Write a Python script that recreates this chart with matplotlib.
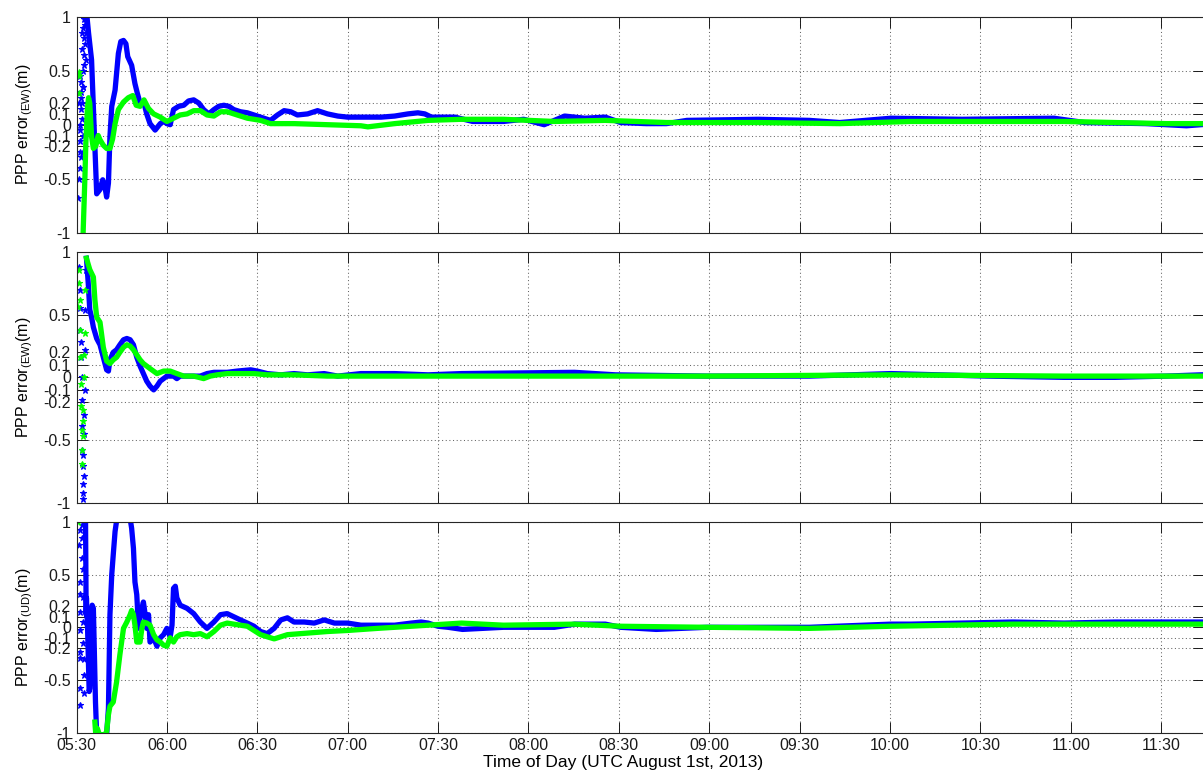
import matplotlib
matplotlib.use("Agg")
import matplotlib.pyplot as plt
import numpy as np

plt.rcParams['font.family'] = ['Liberation Sans', 'DejaVu Sans']
plt.rcParams['mathtext.fontset'] = 'custom'
plt.rcParams['mathtext.rm'] = 'Liberation Sans'
plt.rcParams['mathtext.it'] = 'Liberation Sans'

# ---------------- data (minutes after 05:30, error in metres) ----------------
# Panel 1 (EW)
p1_blue_t = [3.3, 4.0, 5.0, 6.7, 7.8, 8.7, 9.4, 10.0, 10.6, 11.1, 11.7, 12.8, 13.9, 14.7, 15.6, 16.4, 17.0,
             18.3, 19.4, 20.2, 21.1, 22.4, 23.3, 24.4, 26.1, 27.8, 28.9, 30.0, 31.1, 32.2, 33.9, 35.6,
             37.2, 38.9, 40.6, 42.2, 43.9, 45.6, 47.2, 48.9, 50.6, 52.2, 54.4, 56.7, 58.9, 61.1, 64.4,
             66.7, 68.9, 71.1, 73.3, 76.7, 80.0, 83.3, 86.7, 90.0, 94.4, 101.1, 105.6, 110.0, 113.3,
             115.6, 117.8, 122.2, 125.6, 131.5, 141.7, 148.4, 155.2, 162.0, 168.7, 175.5, 180.6, 189.0,
             195.8, 202.6, 226.3, 243.2, 253.3, 270.3, 293.9, 324.4, 334.6, 354.9, 368.4, 373.1]
p1_blue_v = [1.05, 0.85, 0.60, -0.64, -0.60, -0.51, -0.57, -0.67, -0.54, -0.11, 0.17, 0.32, 0.66, 0.77,
             0.78, 0.75, 0.63, 0.55, 0.38, 0.29, 0.20, 0.20, 0.10, 0.01, -0.05, 0.01, 0.03, 0.01, 0.00,
             0.14, 0.17, 0.18, 0.22, 0.23, 0.20, 0.14, 0.10, 0.14, 0.17, 0.18, 0.17, 0.14, 0.12, 0.11,
             0.09, 0.07, 0.04, 0.09, 0.13, 0.12, 0.09, 0.10, 0.13, 0.10, 0.08, 0.07, 0.07, 0.07, 0.08,
             0.10, 0.11, 0.10, 0.07, 0.07, 0.07, 0.03, 0.03, 0.05, 0.00, 0.08, 0.06, 0.07, 0.02, 0.01,
             0.01, 0.04, 0.05, 0.04, 0.02, 0.06, 0.05, 0.06, 0.02, 0.01, -0.01, 0.00]
p1_blue_sc_t = [0.6, 0.8, 1.0, 1.1, 1.2, 1.3, 1.4, 1.5, 1.6, 1.7, 1.8, 2.0, 2.1, 2.3, 2.4, 2.6, 2.8,
                3.0, 3.1, 0.9, 1.2, 1.5, 1.9, 2.2, 2.5, 2.7, 2.9, 3.0, 1.0, 1.4, 1.8, 2.0, 2.2, 2.4]
p1_blue_sc_v = [-0.68, -0.50, -0.40, -0.25, -0.15, 0.00, 0.15, 0.30, 0.40, 0.20, 0.05, -0.10, -0.25,
                0.35, 0.55, 0.80, 1.00, 0.95, 0.85, 0.20, 0.45, -0.30, 0.70, 0.90, 0.65, 0.92, 0.75,
                0.60, -0.05, 0.25, 0.85, 0.35, 0.50, 0.98]
p1_green_t = [2.2, 2.8, 3.1, 3.6, 4.0, 4.4, 5.0, 5.6, 6.4, 7.2, 7.8, 8.9, 10.0, 11.1, 12.0, 12.8, 13.9,
              15.6, 17.2, 18.7, 19.8, 21.1, 22.4, 23.9, 25.6, 27.8, 30.0, 32.2, 34.4, 36.7, 38.9, 41.1,
              43.3, 45.6, 47.8, 50.0, 53.3, 56.7, 61.1, 64.4, 72.2, 83.3, 94.4, 96.7, 105.6, 116.7,
              127.8, 141.7, 158.6, 175.5, 195.8, 226.3, 253.3, 277.0, 327.8, 361.6, 373.1]
p1_green_v = [-1.00, -0.48, -0.17, 0.14, 0.25, 0.20, -0.11, -0.22, -0.20, -0.10, -0.14, -0.19, -0.22,
              -0.22, -0.13, 0.01, 0.14, 0.21, 0.25, 0.27, 0.18, 0.17, 0.23, 0.15, 0.10, 0.07, 0.03, 0.06,
              0.09, 0.10, 0.13, 0.13, 0.09, 0.08, 0.12, 0.12, 0.09, 0.06, 0.04, 0.01, 0.01, 0.00, -0.01,
              -0.02, 0.01, 0.04, 0.05, 0.05, 0.03, 0.04, 0.02, 0.02, 0.01, 0.03, 0.03, 0.01, 0.01]
p1_green_sc_t = [0.9, 0.9, 0.7]
p1_green_sc_v = [0.49, 0.29, 0.45]

# Panel 2 (EW)
p2_blue_t = [3.3, 3.9, 4.4, 5.0, 5.6, 6.7, 7.8, 8.9, 10.0, 10.6, 11.1, 12.2, 13.3, 14.4, 15.6, 16.7,
             17.8, 18.9, 20.0, 21.1, 22.2, 23.3, 24.4, 25.6, 26.7, 27.8, 28.9, 30.0, 32.2, 33.3, 34.4,
             38.9, 41.1, 43.3, 45.6, 50.0, 53.3, 57.8, 60.0, 63.3, 67.8, 72.2, 76.7, 82.2, 86.7, 94.4,
             105.6, 116.7, 127.8, 165.3, 178.9, 209.3, 243.2, 270.3, 302.4, 327.8, 344.7, 361.6, 373.1]
p2_blue_v = [0.95, 0.75, 0.54, 0.48, 0.40, 0.31, 0.26, 0.16, 0.06, 0.05, 0.14, 0.20, 0.22, 0.26, 0.30,
             0.31, 0.30, 0.26, 0.16, 0.09, 0.03, -0.03, -0.07, -0.10, -0.07, -0.03, -0.01, 0.01, 0.01,
             -0.01, 0.01, 0.01, 0.01, 0.03, 0.04, 0.04, 0.05, 0.06, 0.05, 0.03, 0.02, 0.03, 0.02, 0.03,
             0.01, 0.03, 0.03, 0.02, 0.03, 0.04, 0.02, 0.01, 0.01, 0.03, 0.01, 0.00, 0.00, 0.01, 0.02]
p2_blue_sc_t = [0.9, 1.1, 1.3, 1.4, 1.7, 1.8, 1.8, 1.9, 2.0, 2.0, 2.2, 2.4, 2.6, 2.7, 2.8, 2.9, 3.1,
                1.0, 1.5, 2.1, 2.3, 2.5]
p2_blue_sc_v = [0.88, 0.70, 0.38, 0.16, 0.00, -0.18, -0.39, -0.58, -0.71, -0.85, -0.97, -0.79, -0.45,
                -0.10, 0.22, 0.54, 0.86, 0.55, 0.28, -0.92, -0.62, -0.30]
p2_green_t = [3.3, 4.4, 5.6, 6.1, 6.7, 7.8, 8.9, 10.0, 11.1, 12.2, 13.3, 14.4, 15.6, 16.7, 17.8, 18.9,
              20.0, 21.1, 22.2, 24.4, 26.7, 28.9, 31.1, 33.3, 35.6, 38.9, 42.2, 44.4, 46.7, 50.0, 58.9,
              63.3, 72.2, 83.3, 105.6, 127.8, 158.6, 209.3, 270.3, 327.8, 373.1]
p2_green_v = [0.95, 0.86, 0.80, 0.62, 0.48, 0.44, 0.24, 0.13, 0.11, 0.14, 0.16, 0.20, 0.24, 0.26, 0.25,
              0.22, 0.18, 0.14, 0.11, 0.07, 0.03, 0.05, 0.05, 0.03, 0.01, 0.01, -0.01, 0.01, 0.02, 0.03,
              0.03, 0.02, 0.02, 0.01, 0.01, 0.01, 0.01, 0.01, 0.02, 0.01, 0.01]
p2_green_sc_t = [0.6, 0.8, 0.9, 1.1, 1.3, 1.4, 1.6, 1.7, 1.8, 1.9, 2.0, 2.2, 2.4, 2.7, 2.9, 1.0, 2.1, 2.5]
p2_green_sc_v = [0.56, 0.86, 0.75, 0.38, 0.16, -0.05, -0.23, -0.42, -0.58, -0.69, -0.47, -0.26, 0.00,
                 0.35, 0.70, 0.62, -0.35, 0.18]

# Panel 3 (UD)
p3_blue_t = [3.0, 3.1, 3.2, 3.3, 3.7, 3.9, 4.2, 4.4, 4.7, 5.0, 5.2, 5.6, 5.9, 6.3, 6.7, 10.0, 10.6,
             11.1, 11.7, 12.2, 12.8, 13.6, 17.6, 18.3, 18.9, 19.4, 20.0, 20.6, 21.1, 21.7, 22.2, 22.8,
             23.3, 23.9, 24.4, 25.6, 26.7, 27.8, 28.9, 30.0, 31.1, 31.7, 32.2, 32.8, 33.3, 34.4, 36.7,
             38.9, 41.1, 43.3, 45.6, 47.8, 50.0, 52.2, 54.4, 56.7, 58.9, 61.1, 63.3, 65.6, 67.8, 70.0,
             72.2, 75.6, 78.9, 82.2, 85.6, 90.0, 94.4, 105.6, 111.1, 114.4, 116.7, 120.0, 123.3, 128.1,
             141.7, 158.6, 165.3, 175.5, 180.6, 192.4, 209.3, 243.2, 270.3, 277.0, 293.9, 310.8, 327.8,
             344.7, 373.1]
p3_blue_v = [1.00, 0.59, 0.12, 0.28, -0.04, -0.26, -0.61, -0.58, -0.20, 0.12, 0.21, 0.18, -0.20, -0.71,
             -1.02, -1.02, -0.77, 0.12, 0.50, 0.69, 0.91, 1.07, 1.07, 0.94, 0.75, 0.43, 0.31, -0.01,
             0.09, 0.18, 0.24, 0.12, -0.01, 0.12, -0.14, -0.10, -0.18, -0.10, -0.07, -0.01, -0.09, 0.02,
             0.37, 0.39, 0.28, 0.21, 0.18, 0.13, 0.05, -0.01, 0.05, 0.12, 0.13, 0.10, 0.07, 0.04, 0.01,
             -0.04, -0.06, -0.01, 0.07, 0.09, 0.05, 0.05, 0.04, 0.07, 0.04, 0.04, 0.02, 0.02, 0.04, 0.05,
             0.04, 0.01, 0.00, -0.02, 0.00, 0.00, 0.03, 0.03, 0.00, -0.02, 0.00, 0.00, 0.03, 0.03, 0.04,
             0.05, 0.04, 0.05, 0.05]
p3_blue_sc_t = [0.8, 1.1, 1.1, 1.2, 1.1, 1.3, 1.1, 1.2, 1.3, 1.1, 1.7, 1.8, 2.0, 2.2, 2.4, 2.6,
                1.9, 2.1, 2.3, 2.5]
p3_blue_sc_v = [0.78, 0.92, 0.43, 0.32, 0.15, -0.03, -0.23, -0.29, -0.58, -0.74, 0.97, 0.66, 0.29,
                -0.15, -0.45, -0.62, 0.85, 0.55, 0.05, -0.30]
p3_green_t = [6.1, 6.4, 6.9, 7.6, 9.4, 10.0, 10.6, 11.1, 12.2, 13.3, 14.4, 15.6, 16.7, 17.8, 18.3, 18.9,
              19.4, 20.0, 21.1, 21.7, 22.2, 23.3, 24.4, 25.6, 26.7, 27.8, 28.9, 30.0, 31.1, 32.2, 33.3,
              34.4, 36.7, 38.9, 41.1, 43.3, 45.6, 47.8, 50.0, 54.4, 56.7, 58.9, 61.1, 63.3, 65.6, 67.8,
              70.0, 74.4, 78.9, 83.3, 90.0, 100.0, 105.6, 116.7, 127.8, 141.7, 165.3, 180.6, 209.3,
              243.2, 270.3, 310.8, 373.1]
p3_green_v = [-0.90, -1.02, -0.96, -1.02, -1.02, -0.99, -0.83, -0.75, -0.71, -0.52, -0.26, -0.01, 0.05,
              0.12, 0.16, 0.12, 0.02, -0.14, -0.14, -0.01, 0.05, 0.04, 0.02, -0.07, -0.12, -0.14, -0.17,
              -0.18, -0.10, -0.14, -0.09, -0.07, -0.06, -0.07, -0.06, -0.09, -0.04, 0.02, 0.04, 0.02,
              0.01, -0.03, -0.07, -0.09, -0.11, -0.09, -0.07, -0.06, -0.05, -0.04, -0.03, -0.01, 0.00,
              0.02, 0.04, 0.02, 0.03, 0.01, 0.00, -0.01, 0.01, 0.03, 0.03]
p3_green_sc_t = [0.6]
p3_green_sc_v = [1.00]

ylabels = ['PPP error$_{\\mathrm{(EW)}}$(m)', 'PPP error$_{\\mathrm{(EW)}}$(m)', 'PPP error$_{\\mathrm{(UD)}}$(m)']
ytick_vals = [-1, -0.5, -0.2, -0.1, 0, 0.1, 0.2, 0.5, 1]
ytick_labels = ['-1', '-0.5', '-0.2', '-0.1', '0', '0.1', '0.2', '0.5', '1']
xtick_labels = ['05:30', '06:00', '06:30', '07:00', '07:30', '08:00', '08:30', '09:00',
                '09:30', '10:00', '10:30', '11:00', '11:30']
xlabel = 'Time of Day (UTC August 1st, 2013)'
start_min = 330  # 05:30 in minutes of day

# ---------------- figure ----------------
W, H = 1203, 776
fig = plt.figure(figsize=(W / 100, H / 100), dpi=100)

left_px, right_px = 76.5, 1204.0
panels_px = [(16.7, 232.7), (252.0, 502.7), (522.0, 732.6)]

series = [
    (p1_blue_t, p1_blue_v, p1_blue_sc_t, p1_blue_sc_v, p1_green_t, p1_green_v, p1_green_sc_t, p1_green_sc_v),
    (p2_blue_t, p2_blue_v, p2_blue_sc_t, p2_blue_sc_v, p2_green_t, p2_green_v, p2_green_sc_t, p2_green_sc_v),
    (p3_blue_t, p3_blue_v, p3_blue_sc_t, p3_blue_sc_v, p3_green_t, p3_green_v, p3_green_sc_t, p3_green_sc_v),
]

xticks = [start_min + 30 * i for i in range(len(xtick_labels))]
x_max = start_min + 374.2

BLUE = '#0000ff'
GREEN = '#00ff00'

for i, ((top, bot), s) in enumerate(zip(panels_px, series)):
    ax = fig.add_axes([left_px / W, 1 - bot / H, (right_px - left_px) / W, (bot - top) / H])
    bt, bv, bst, bsv, gt, gv, gst, gsv = s
    bt = np.array(bt) + start_min
    gt = np.array(gt) + start_min
    bst = np.array(bst) + start_min
    gst = np.array(gst) + start_min

    ax.plot(bst, bsv, linestyle='none', marker='*', ms=4.5, color=BLUE, mew=0.8)
    ax.plot(bt, bv, color=BLUE, lw=3.8, solid_joinstyle='round')
    ax.plot(gst, gsv, linestyle='none', marker='*', ms=4.5, color=GREEN, mew=0.8)
    ax.plot(gt, gv, color=GREEN, lw=3.8, solid_joinstyle='round')

    ax.set_xlim(start_min, x_max)
    ax.set_ylim(-1, 1)
    ax.set_yticks(ytick_vals)
    ax.set_yticklabels(ytick_labels)
    ax.set_xticks(xticks)
    if i == 2:
        ax.set_xticklabels(xtick_labels)
        ax.set_xlabel(xlabel, fontsize=12.5)
        ax.xaxis.set_label_coords((623 - left_px) / (right_px - left_px), -0.1,
                                  transform=None) if False else None
        ax.xaxis.set_label_coords((623 - left_px) / (right_px - left_px), -0.108)
    else:
        ax.set_xticklabels([])

    ax.grid(True, which='major', linestyle=(0, (1, 2.5)), color='0.4', lw=0.75)
    ax.tick_params(direction='in', length=8, width=0.7, top=True, right=True,
                   labelsize=11.5, pad=4, colors='0.1')
    for sp in ax.spines.values():
        sp.set_color('0.15')
        sp.set_linewidth(0.8)
    ax.set_ylabel(ylabels[i], fontsize=11.5)
    ax.yaxis.set_label_coords(-0.037, 0.5)

fig.savefig('out.png', dpi=100)
